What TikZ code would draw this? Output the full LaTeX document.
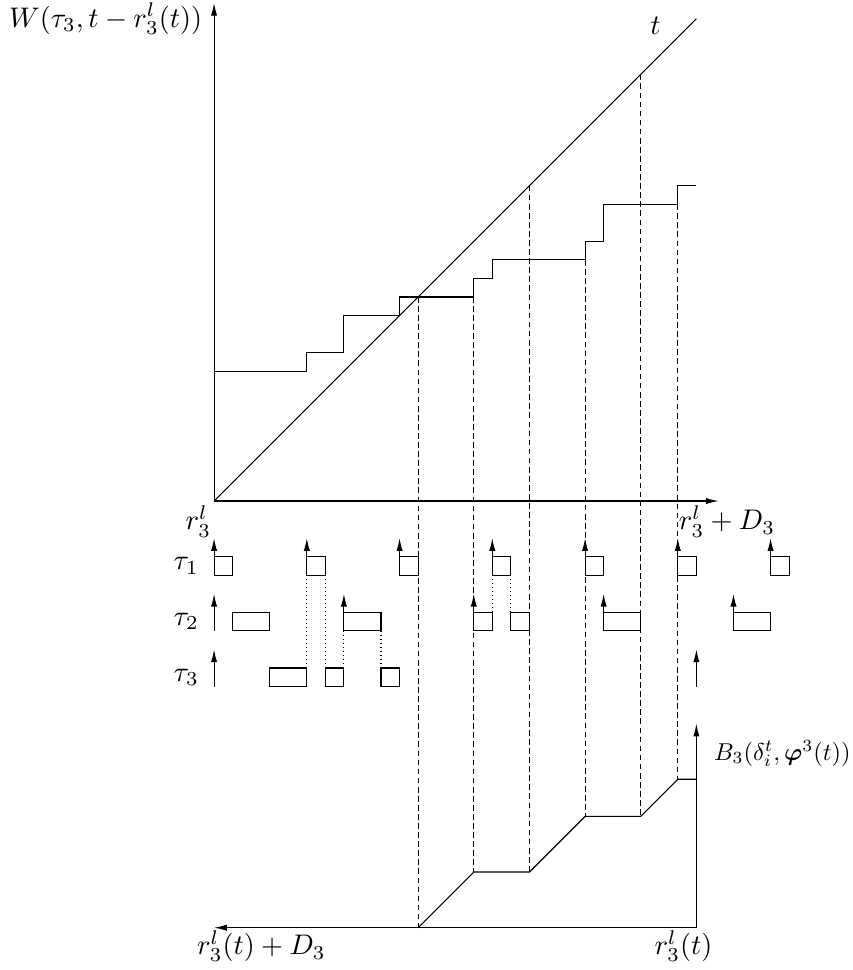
\documentclass[tikz,border=0pt]{standalone}
\usepackage{amsmath}
\usepackage{amssymb}
\usetikzlibrary{arrows.meta}

\begin{document}
\begin{tikzpicture}[x=0.23cm, y=0.23cm,
    axis/.style={black, thin, -{Latex[length=4.5pt,width=2.2pt]}},
    release/.style={black, thin, -{Latex[length=4.5pt,width=2.2pt]}},
    job/.style={black, thin},
    guide/.style={black, thin, dash pattern=on 2pt off 1.2pt},
    link/.style={black, thin, densely dotted}]
                \useasboundingbox (-11.54,-25.28) rectangle (34.39,27.01);
                % demand and supply
                \draw[axis] (0,0) -- (27.2,0);
                \draw[axis] (0,0) -- (0,26.85);
                \draw[black, thin] (0,0) -- (26,26);
                \draw[black, thin] (0,7) -- (5,7) -- (5,8) -- (7,8) -- (7,10) -- (10,10) -- (10,11)
                    -- (14,11) -- (14,12) -- (15,12) -- (15,13) -- (20,13) -- (20,14) -- (21,14)
                    -- (21,16) -- (25,16) -- (25,17) -- (26,17);
                \draw[guide] (11,11) -- (11,-23);
                \draw[guide] (14,11) -- (14,-20);
                \draw[guide] (17,17) -- (17,-20);
                \draw[guide] (20,13) -- (20,-17);
                \draw[guide] (23,23) -- (23,-17);
                \draw[guide] (25,16) -- (25,-15);
                % schedule
                \foreach \x in {0,5,...,30} {
                    \draw[release] (\x,-4) -- (\x,-2);
                    \draw[job] (\x,-4) rectangle ++(1,1);
                }
                \foreach \x in {0,7,...,28}
                    \draw[release] (\x,-7) -- (\x,-5);
                \foreach \a/\b in {1/3,7/9,14/15,16/17,21/23,28/30}
                    \draw[job] (\a,-7) rectangle (\b,-6);
                \foreach \x in {0,26}
                    \draw[release] (\x,-10) -- (\x,-8);
                \foreach \a/\b in {3/5,6/7,9/10}
                    \draw[job] (\a,-10) rectangle (\b,-9);
                \foreach \x in {5,6} \draw[link] (\x,-4) -- (\x,-9);
                \foreach \x in {7,9} \draw[link] (\x,-7) -- (\x,-9);
                \foreach \x in {15,16} \draw[link] (\x,-4) -- (\x,-6);
                % bound
                \draw[axis] (26,-23) -- (0,-23);
                \draw[axis] (26,-23) -- (26,-12);
                \draw[black, thin] (11,-23) -- (14,-20) -- (17,-20) -- (20,-17) -- (23,-17)
                    -- (25,-15) -- (26,-15);
                \node (wlab) [left] at (-0.1,26) {$W(\tau_3, t - r_3^l(t))$};
                \node (tlab) at (23.8,25.6) {$t$};
                \node (rlab) at (-0.85,-1.1) {$r_3^l$};
                \node (dlab) at (27.65,-1.1) {$r_3^l + D_3$};
                \node (tau1) at (-1.5,-3.5) {$\tau_1$};
                \node (tau2) at (-1.5,-6.5) {$\tau_2$};
                \node (tau3) at (-1.5,-9.5) {$\tau_3$};
                \node (blab) [right, inner sep=1pt, scale=0.86] at (26.8,-13.6) {$B_3(\delta_i^t, \boldsymbol{\varphi}^3(t))$};
                \node (bdl) at (2.55,-24) {$r_3^l(t) + D_3$};
                \node (brl) at (25.3,-24) {$r_3^l(t)$};
\end{tikzpicture}
\end{document}
